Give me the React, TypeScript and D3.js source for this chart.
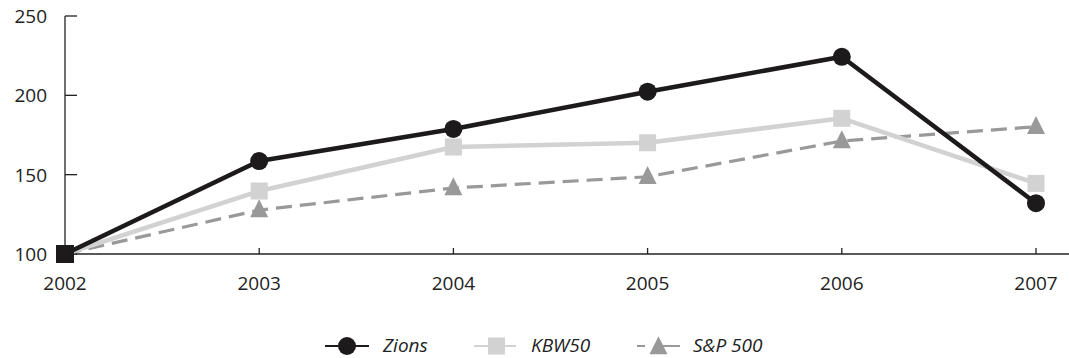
import React from "react";
import * as d3 from "d3";

const years = [2002, 2003, 2004, 2005, 2006, 2007];
const zions = [100, 158.6, 178.8, 202.3, 224.3, 132];
const kbw50 = [100, 139.7, 167.4, 170.1, 185.5, 144.5];
const sp500 = [100, 127.7, 141.6, 148.7, 171.2, 180.2];
const yTicks = [100, 150, 200, 250];

const W = 1069;
const H = 358;
const FONT = "'Open Sans', 'Noto Sans', sans-serif";
const FS = 19;
const LEG_Y = 345;

export default function App() {
  const x = d3.scaleLinear().domain([2002, 2007]).range([65, 1036]);
  const y = d3.scaleLinear().domain([100, 250]).range([254, 16]);
  const line = d3
    .line<number>()
    .x((_, i) => x(years[i]))
    .y((v) => y(v));

  const tri = (cx: number, cy: number, s: number) =>
    `M${cx},${cy - s * 0.6}L${cx + s / 2},${cy + s * 0.4}L${cx - s / 2},${cy + s * 0.4}Z`;

  return (
    <svg width={W} height={H} style={{ position: "absolute", left: 0, top: 0 }}>
      <rect width={W} height={H} fill="#fff" />
      {/* axes */}
      <line x1={65} x2={65} y1={16} y2={254} stroke="#222" strokeWidth={1.3} />
      <line x1={65} x2={W} y1={254} y2={254} stroke="#222" strokeWidth={1.3} />
      {yTicks.map((t) => (
        <g key={t}>
          <line x1={65} x2={77} y1={y(t)} y2={y(t)} stroke="#222" strokeWidth={1.3} />
          <text
            x={47}
            y={y(t)}
            textAnchor="end"
            dominantBaseline="central"
            fontFamily={FONT}
            fontSize={FS}
            fill="#222"
          >
            {t}
          </text>
        </g>
      ))}
      {years.map((yr) => (
        <g key={yr}>
          {yr !== 2002 && (
            <line x1={x(yr)} x2={x(yr)} y1={248} y2={254} stroke="#222" strokeWidth={1.3} />
          )}
          <text
            x={x(yr)}
            y={283}
            textAnchor="middle"
            dominantBaseline="central"
            fontFamily={FONT}
            fontSize={FS}
            fill="#222"
          >
            {yr}
          </text>
        </g>
      ))}

      {/* S&P 500 */}
      <path d={line(sp500) || ""} fill="none" stroke="#999" strokeWidth={3.2} strokeDasharray="16,8" />
      {sp500.slice(1).map((v, i) => (
        <path key={i} d={tri(x(years[i + 1]), y(v), 18)} fill="#999" />
      ))}

      {/* KBW50 */}
      <path d={line(kbw50) || ""} fill="none" stroke="#d2d2d2" strokeWidth={4.5} strokeLinejoin="round" />
      {kbw50.slice(1).map((v, i) => (
        <rect key={i} x={x(years[i + 1]) - 8.5} y={y(v) - 8.5} width={17} height={17} fill="#d2d2d2" />
      ))}

      {/* Zions */}
      <path d={line(zions) || ""} fill="none" stroke="#1c1a1a" strokeWidth={4.5} strokeLinejoin="round" />
      {zions.slice(1).map((v, i) => (
        <circle key={i} cx={x(years[i + 1])} cy={y(v)} r={9} fill="#1c1a1a" />
      ))}
      <rect x={x(2002) - 9} y={y(100) - 9} width={18} height={18} fill="#1c1a1a" />

      {/* legend */}
      <g fontFamily={FONT} fontSize={FS} fontStyle="italic" fill="#222">
        <line x1={325} x2={369} y1={LEG_Y + 1} y2={LEG_Y + 1} stroke="#1c1a1a" strokeWidth={2} />
        <circle cx={347} cy={LEG_Y + 1} r={9} fill="#1c1a1a" />
        <text x={383} y={LEG_Y} dominantBaseline="central">Zions</text>

        <line x1={474} x2={516} y1={LEG_Y + 1} y2={LEG_Y + 1} stroke="#d2d2d2" strokeWidth={2} />
        <rect x={488} y={LEG_Y - 7.5} width={17} height={17} fill="#d2d2d2" />
        <text x={531} y={LEG_Y} dominantBaseline="central">KBW50</text>

        <line x1={637} x2={680} y1={LEG_Y + 1} y2={LEG_Y + 1} stroke="#999" strokeWidth={2} strokeDasharray="8,10,25,10,8" />
        <path d={tri(658.5, LEG_Y + 2, 18)} fill="#999" />
        <text x={693} y={LEG_Y} dominantBaseline="central">S&amp;P 500</text>
      </g>
    </svg>
  );
}
